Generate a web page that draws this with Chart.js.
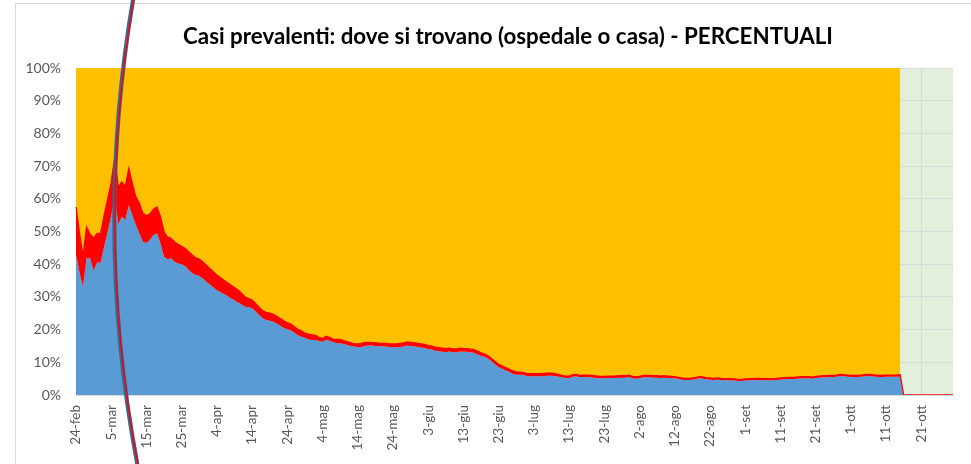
<!DOCTYPE html>
<html lang="it">
<head>
<meta charset="utf-8">
<title>Casi prevalenti - percentuali</title>
<script src="https://cdn.jsdelivr.net/npm/chart.js@4.4.1/dist/chart.umd.min.js"></script>
<style>
  html, body { margin: 0; padding: 0; background: #ffffff; }
  #grafico { display: block; }
</style>
</head>
<body>
<canvas id="grafico" width="971" height="464"></canvas>
<script>
// Dati (percentuale sul totale dei casi positivi)
// giorno 0 = 24-feb, ultimo giorno con dati = 15-ott, poi zeri fino a 30-ott
const mesi = ['gen', 'feb', 'mar', 'apr', 'mag', 'giu', 'lug', 'ago', 'set', 'ott', 'nov', 'dic'];
const primoGiorno = [2020, 1, 24];
const ultimoGiornoDati = '15-ott';
const passoEtichette = 10;
const tickPercentuali = [0, 10, 20, 30, 40, 50, 60, 70, 80, 90, 100];

// ricoverati con sintomi (bordo superiore dell'area blu)
const ricoverati = [
  43.0, 37.5, 33.1, 41.8, 41.8, 38.0, 40.5, 40.5, 45.3, 50.0,
  54.8, 61.0, 52.2, 54.5, 53.5, 58.0, 55.0, 52.0, 49.4, 46.8,
  46.5, 47.5, 48.9, 49.4, 46.3, 42.3, 41.5, 41.8, 40.7, 40.2,
  40.0, 39.4, 38.2, 37.2, 36.7, 36.4, 35.6, 34.6, 33.8, 32.9,
  32.1, 31.4, 30.9, 30.3, 29.5, 29.0, 28.3, 27.7, 27.0, 26.8,
  26.5, 25.5, 24.4, 23.5, 22.9, 22.7, 22.4, 21.9, 21.2, 20.5,
  20.1, 19.7, 19.0, 18.3, 17.8, 17.5, 17.0, 16.8, 16.8, 16.5,
  16.3, 16.8, 16.6, 16.2, 15.8, 15.8, 15.6, 15.3, 15.0, 14.8,
  14.6, 14.7, 15.0, 15.1, 15.1, 15.0, 14.9, 14.9, 14.8, 14.7,
  14.6, 14.6, 14.7, 14.8, 15.1, 15.0, 14.9, 14.7, 14.5, 14.4,
  14.0, 13.9, 13.5, 13.4, 13.2, 13.1, 13.3, 13.1, 13.1, 13.3,
  13.2, 13.2, 13.0, 12.9, 12.4, 11.9, 11.7, 11.1, 10.3, 9.3,
  8.5, 8.0, 7.5, 7.0, 6.5, 6.2, 6.2, 6.1, 5.8, 5.7,
  5.7, 5.7, 5.7, 5.8, 5.9, 5.9, 5.8, 5.6, 5.4, 5.2,
  5.2, 5.6, 5.7, 5.4, 5.5, 5.5, 5.4, 5.3, 5.2, 5.1,
  5.1, 5.2, 5.2, 5.2, 5.3, 5.3, 5.3, 5.5, 5.1, 5.0,
  5.1, 5.4, 5.4, 5.4, 5.3, 5.3, 5.2, 5.3, 5.2, 5.1,
  5.1, 4.9, 4.7, 4.6, 4.6, 4.7, 4.9, 5.1, 5.0, 4.8,
  4.7, 4.6, 4.7, 4.6, 4.5, 4.5, 4.5, 4.4, 4.3, 4.3,
  4.4, 4.5, 4.5, 4.6, 4.6, 4.5, 4.5, 4.5, 4.5, 4.6,
  4.7, 4.8, 4.9, 4.9, 4.9, 5.0, 5.1, 5.1, 5.1, 5.0,
  5.2, 5.3, 5.4, 5.4, 5.5, 5.5, 5.6, 5.8, 5.7, 5.6,
  5.5, 5.5, 5.5, 5.6, 5.7, 5.8, 5.7, 5.6, 5.5, 5.5,
  5.6, 5.6, 5.6, 5.6, 5.6, 0, 0, 0, 0, 0,
  0, 0, 0, 0, 0, 0, 0, 0, 0, 0
];

// ricoverati + terapia intensiva (bordo superiore dell'area rossa)
const ospedale = [
  57.5, 49.5, 42.3, 51.3, 49.2, 48.0, 49.4, 49.5, 55.0, 60.0,
  65.0, 72.8, 63.6, 65.2, 63.7, 69.3, 64.7, 60.6, 58.6, 55.6,
  54.8, 55.4, 56.8, 57.5, 54.5, 49.9, 48.3, 47.9, 46.8, 46.1,
  45.5, 44.8, 43.8, 42.8, 41.9, 41.6, 40.7, 39.7, 38.7, 37.7,
  36.7, 35.9, 35.1, 34.3, 33.6, 32.9, 32.1, 31.1, 30.0, 29.5,
  29.0, 28.0, 26.8, 25.8, 25.3, 25.0, 24.7, 24.1, 23.4, 22.7,
  22.1, 21.7, 20.9, 20.1, 19.6, 18.9, 18.6, 18.4, 18.2, 17.6,
  17.3, 18.0, 17.6, 17.1, 17.0, 17.0, 16.6, 16.3, 16.0, 15.6,
  15.6, 15.8, 16.1, 16.1, 16.0, 16.0, 15.8, 15.8, 15.8, 15.6,
  15.6, 15.6, 15.8, 15.9, 16.2, 16.1, 16.0, 15.8, 15.6, 15.5,
  15.1, 15.0, 14.6, 14.5, 14.3, 14.2, 14.3, 14.1, 14.1, 14.3,
  14.2, 14.2, 14.0, 13.9, 13.4, 12.9, 12.6, 12.0, 11.2, 10.2,
  9.4, 8.9, 8.4, 7.9, 7.4, 7.1, 7.0, 6.9, 6.6, 6.5,
  6.5, 6.5, 6.5, 6.6, 6.7, 6.7, 6.5, 6.3, 6.0, 5.8,
  5.8, 6.2, 6.3, 6.0, 6.1, 6.1, 6.0, 5.9, 5.8, 5.7,
  5.7, 5.8, 5.8, 5.8, 5.9, 5.9, 5.9, 6.1, 5.7, 5.6,
  5.7, 6.0, 6.0, 6.0, 5.9, 5.9, 5.8, 5.9, 5.8, 5.7,
  5.6, 5.4, 5.2, 5.1, 5.1, 5.2, 5.4, 5.6, 5.5, 5.3,
  5.2, 5.1, 5.2, 5.1, 5.0, 5.0, 5.0, 4.9, 4.8, 4.8,
  4.9, 5.0, 5.0, 5.1, 5.1, 5.0, 5.0, 5.0, 5.0, 5.1,
  5.2, 5.3, 5.4, 5.4, 5.4, 5.5, 5.6, 5.6, 5.6, 5.5,
  5.7, 5.8, 5.9, 5.9, 6.0, 6.0, 6.1, 6.3, 6.2, 6.1,
  6.0, 6.0, 6.0, 6.1, 6.2, 6.3, 6.2, 6.1, 6.0, 6.0,
  6.1, 6.1, 6.1, 6.1, 6.2, 0, 0, 0, 0, 0,
  0, 0, 0, 0, 0, 0, 0, 0, 0, 0
];

// etichette giornaliere "24-feb", "25-feb", ...
const giorni = [];
for (let i = 0; i < ricoverati.length; i++) {
  const d = new Date(Date.UTC(primoGiorno[0], primoGiorno[1], primoGiorno[2] + i));
  giorni.push(d.getUTCDate() + '-' + mesi[d.getUTCMonth()]);
}
const indiceUltimo = giorni.indexOf(ultimoGiornoDati);

const BLU = '#5B9BD5';
const ROSSO = '#FF0000';
const ARANCIO = '#FFC000';
const VERDE = '#E2EFDA';
const GRIGLIA = '#D9D9D9';
const TESTO = '#595959';
const FONT = 'Lato, "Open Sans", sans-serif';

// sfondo verde dell'area del grafico + cornice esterna
const sfondo = {
  id: 'sfondo',
  beforeDraw(chart) {
    const { ctx, chartArea: a } = chart;
    ctx.save();
    ctx.fillStyle = VERDE;
    ctx.fillRect(a.left, a.top, a.right - a.left, a.bottom - a.top);
    ctx.strokeStyle = GRIGLIA;
    ctx.lineWidth = 1;
    ctx.strokeRect(15.5, 3.5, 1200, 1200);
    ctx.restore();
  }
};

// titolo centrato come nell'originale
const titolo = {
  id: 'titolo',
  afterDraw(chart) {
    const ctx = chart.ctx;
    const testo = 'Casi prevalenti: dove si trovano (ospedale o casa) - PERCENTUALI';
    ctx.save();
    ctx.font = 'bold 18px ' + FONT;
    const w = ctx.measureText(testo).width;
    const size = 18 * 650 / w;
    ctx.font = 'bold ' + size.toFixed(2) + 'px ' + FONT;
    ctx.fillStyle = '#000000';
    ctx.textAlign = 'center';
    ctx.textBaseline = 'middle';
    ctx.fillText(testo, 508, 37);
    ctx.restore();
  }
};

// tratto curvo disegnato a mano sopra il grafico
const tratto = {
  id: 'tratto',
  afterDraw(chart) {
    const ctx = chart.ctx;
    const R = 1317, cx = 114.5 + R, cy = 220;
    ctx.save();
    ctx.beginPath();
    ctx.arc(cx, cy, R, Math.PI - 0.192, Math.PI + 0.173);
    ctx.strokeStyle = '#3A6690';
    ctx.lineWidth = 4.2;
    ctx.stroke();
    ctx.beginPath();
    ctx.arc(cx + 0.6, cy, R, Math.PI - 0.192, Math.PI + 0.173);
    ctx.strokeStyle = ROSSO;
    ctx.lineWidth = 1.4;
    ctx.stroke();
    ctx.restore();
  }
};

new Chart(document.getElementById('grafico'), {
  type: 'line',
  data: {
    labels: giorni,
    datasets: [
      {
        label: 'Ricoverati con sintomi',
        data: ricoverati,
        fill: 'origin',
        backgroundColor: BLU,
        borderColor: 'rgba(0,0,0,0)',
        borderWidth: 0,
        order: 1
      },
      {
        label: 'Terapia intensiva',
        data: ospedale,
        fill: '-1',
        backgroundColor: ROSSO,
        borderColor: ROSSO,
        borderWidth: 1.3,
        order: 0
      },
      {
        label: 'Isolamento domiciliare',
        data: ospedale,
        fill: 'end',
        backgroundColor: ARANCIO,
        borderColor: 'rgba(0,0,0,0)',
        borderWidth: 0,
        order: 2,
        segment: {
          backgroundColor: c => c.p0DataIndex >= indiceUltimo ? 'rgba(0,0,0,0)' : ARANCIO
        }
      }
    ]
  },
  options: {
    responsive: false,
    animation: false,
    devicePixelRatio: 1,
    layout: { padding: { left: 16, right: 18, top: 68, bottom: 0 } },
    elements: {
      point: { radius: 0, hoverRadius: 0 },
      line: { tension: 0 }
    },
    plugins: {
      legend: { display: false },
      title: { display: false },
      tooltip: { enabled: false }
    },
    scales: {
      x: {
        grid: { color: GRIGLIA, drawTicks: false },
        border: { color: GRIGLIA },
        afterFit(scale) { scale.height = 69; },
        ticks: {
          autoSkip: false,
          minRotation: 90,
          maxRotation: 90,
          padding: 10,
          color: TESTO,
          font: { family: FONT, size: 13.5 },
          callback(v, i) { return i % passoEtichette === 0 ? giorni[i] : null; }
        }
      },
      y: {
        min: tickPercentuali[0],
        max: tickPercentuali[tickPercentuali.length - 1],
        grid: { color: GRIGLIA, drawTicks: false },
        border: { display: false },
        afterFit(scale) { scale.width = 60; },
        afterBuildTicks(scale) { scale.ticks = tickPercentuali.map(v => ({ value: v })); },
        ticks: {
          padding: 15,
          color: TESTO,
          font: { family: FONT, size: 14 },
          callback: v => v + '%'
        }
      }
    }
  },
  plugins: [sfondo, titolo, tratto]
});
</script>
</body>
</html>
